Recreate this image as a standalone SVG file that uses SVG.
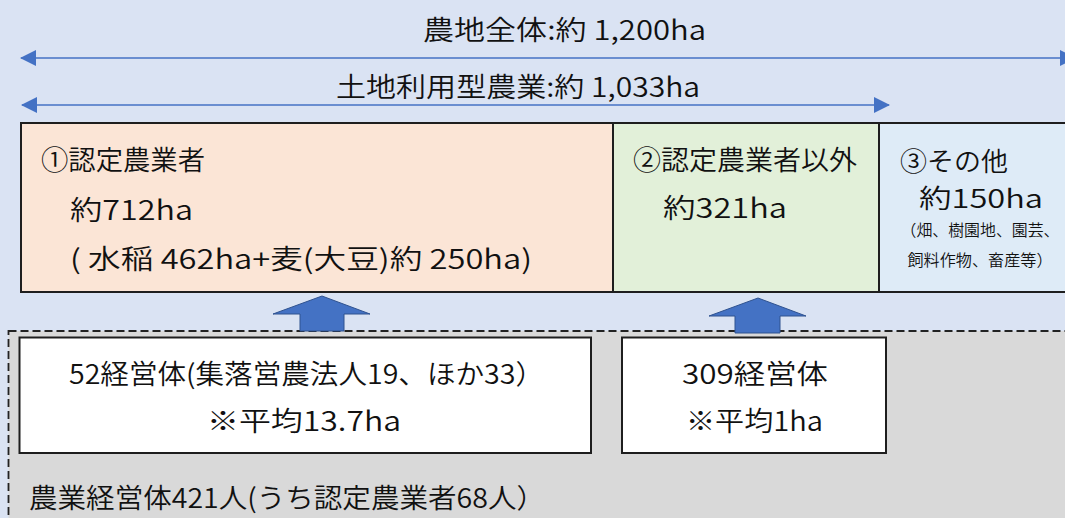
<svg xmlns="http://www.w3.org/2000/svg" width="1065" height="518" viewBox="0 0 1065 518">
  <defs>
    <marker id="tri" markerUnits="userSpaceOnUse" markerWidth="16" markerHeight="16" viewBox="0 0 16 16" refX="15" refY="8" orient="auto-start-reverse">
      <path d="M0,0 L16,8 L0,16 Z" fill="#4472C4"/>
    </marker>
    <style>
      text { font-family: "Noto Sans CJK JP", "Noto Sans", sans-serif; fill: #111; font-weight: 350; }
      .t27 { font-size: 27px; }
      .t26 { font-size: 26px; }
      .t16 { font-size: 16px; }
      .mid { text-anchor: middle; }
      .box { stroke: #1e1e1e; stroke-width: 2; }
      .dim { stroke: #4472C4; stroke-width: 1.5; fill: none; marker-start: url(#tri); marker-end: url(#tri); }
      .blk { fill: #4472C4; stroke: #2F528F; stroke-width: 1; }
    </style>
  </defs>

  <rect x="0" y="0" width="1065" height="518" fill="#DAE3F3"/>

  <g id="region-farmers">
    <rect x="8.5" y="331" width="1100" height="300" fill="#D9D9D9" stroke="#222" stroke-width="1.8" stroke-dasharray="8 4"/>
    <text class="t27" x="29" y="508" textLength="516" lengthAdjust="spacingAndGlyphs">農業経営体421人(うち認定農業者68人）</text>
  </g>

  <g id="label-total">
    <text class="t27" x="423" y="40" textLength="283" lengthAdjust="spacingAndGlyphs">農地全体:約 1,200ha</text>
  </g>
  <g id="label-landuse">
    <text class="t27" x="336" y="97" textLength="364" lengthAdjust="spacingAndGlyphs">土地利用型農業:約 1,033ha</text>
  </g>

  <g id="node-certified">
    <rect class="box" x="21" y="123" width="592" height="169" fill="#FBE5D6"/>
    <text class="t27" x="41" y="170" textLength="164" lengthAdjust="spacingAndGlyphs">①認定農業者</text>
    <text class="t27" x="70" y="220" textLength="123" lengthAdjust="spacingAndGlyphs">約712ha</text>
    <text class="t27" x="70" y="269" textLength="462" lengthAdjust="spacingAndGlyphs">( 水稲 462ha+麦(大豆)約 250ha)</text>
  </g>

  <g id="node-noncertified">
    <rect class="box" x="613" y="123" width="266" height="169" fill="#E2F0D9"/>
    <text class="t27" x="633" y="170" textLength="224" lengthAdjust="spacingAndGlyphs">②認定農業者以外</text>
    <text class="t27" x="663" y="218" textLength="124" lengthAdjust="spacingAndGlyphs">約321ha</text>
  </g>

  <g id="node-other">
    <rect class="box" x="879" y="123" width="250" height="169" fill="#DEEBF7"/>
    <text class="t26" x="900" y="171" textLength="108" lengthAdjust="spacingAndGlyphs">③その他</text>
    <text class="t26" x="919" y="208" textLength="124" lengthAdjust="spacingAndGlyphs">約150ha</text>
    <text class="t16 mid" x="980" y="236" textLength="159" lengthAdjust="spacingAndGlyphs">（畑、樹園地、園芸、</text>
    <text class="t16 mid" x="980" y="266" textLength="145" lengthAdjust="spacingAndGlyphs">飼料作物、畜産等）</text>
  </g>

  <g id="node-52">
    <rect class="box" x="19.5" y="337.5" width="571.5" height="115.5" fill="#FFFFFF"/>
    <text class="t27" x="69" y="384" textLength="475" lengthAdjust="spacingAndGlyphs">52経営体(集落営農法人19、ほか33）</text>
    <text class="t27" x="207" y="431" textLength="194" lengthAdjust="spacingAndGlyphs">※平均13.7ha</text>
  </g>

  <g id="node-309">
    <rect class="box" x="622" y="337.5" width="264" height="115.5" fill="#FFFFFF"/>
    <text class="t27" x="682" y="384" textLength="146" lengthAdjust="spacingAndGlyphs">309経営体</text>
    <text class="t27" x="686" y="431" textLength="137" lengthAdjust="spacingAndGlyphs">※平均1ha</text>
  </g>

  <g id="connectors">
    <line class="dim" x1="21" y1="58" x2="1075" y2="58"/>
    <line class="dim" x1="22" y1="105" x2="889" y2="105"/>
    <polygon class="blk" points="322,296 370,314 344,314 344,331 300,331 300,314 273,314"/>
    <polygon class="blk" points="758,298 806,316 780,316 780,333 735,333 735,316 709,316"/>
  </g>
</svg>
